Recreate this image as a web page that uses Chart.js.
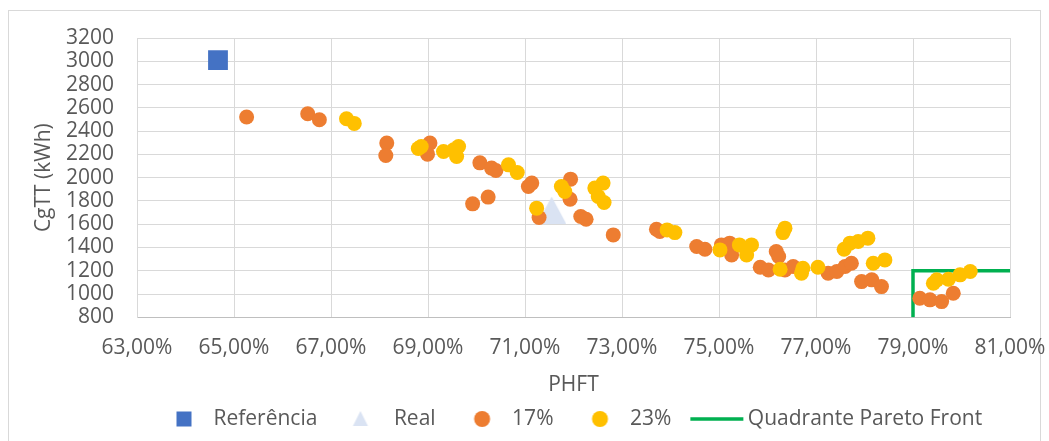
<!DOCTYPE html>
<html>
<head>
<meta charset="utf-8">
<title>CgTT x PHFT</title>
<script src="https://cdn.jsdelivr.net/npm/chart.js@4.4.1/dist/chart.umd.min.js"></script>
<style>
  html, body { margin: 0; padding: 0; background: #fff; }
  #frame {
    position: absolute; left: 8px; top: 10px;
    width: 1031px; height: 440px;
    border: 1px solid #d9d9d9;
  }
  #chart { position: absolute; left: 0; top: 0; }
</style>
</head>
<body>
<div id="frame"></div>
<canvas id="chart" width="1049" height="441"></canvas>
<script>
// PHFT (%) / CgTT (kWh) pairs
const referencia = [{ x: 64.67, y: 3010 }];
const real = [{ x: 71.55, y: 1721 }];

const phft17 = [65.26, 66.52, 66.76, 68.15, 68.13, 69.04, 68.99, 70.07, 70.31, 70.40,
  71.07, 71.14, 69.92, 70.24, 71.29, 71.94, 71.93, 72.15, 72.26, 72.82,
  73.71, 73.78, 74.54, 74.71, 75.05, 75.22, 75.26, 76.18, 76.23, 75.85,
  76.02, 76.36, 76.53, 77.25, 77.43, 77.60, 77.73, 77.94, 78.15, 78.35,
  79.14, 79.35, 79.59, 79.83];
const cgtt17 = [2521, 2549, 2497, 2297, 2190, 2297, 2202, 2127, 2082, 2061,
  1924, 1953, 1775, 1833, 1657, 1987, 1815, 1666, 1643, 1508,
  1557, 1537, 1408, 1385, 1422, 1437, 1336, 1365, 1322, 1230,
  1207, 1207, 1236, 1179, 1193, 1236, 1265, 1107, 1122, 1064,
  964, 950, 935, 1007];

const phft23 = [67.32, 67.48, 68.86, 68.80, 69.32, 69.53, 69.63, 69.59, 70.66, 70.84,
  71.24, 71.75, 71.82, 72.44, 72.61, 72.51, 72.63, 73.93, 74.09, 75.02,
  75.42, 75.67, 75.57, 76.36, 76.32, 76.26, 76.73, 76.70, 77.04, 77.58,
  77.70, 77.87, 78.07, 78.18, 78.42, 79.42, 79.49, 79.73, 79.97, 80.18];
const cgtt23 = [2506, 2466, 2268, 2250, 2225, 2240, 2268, 2182, 2110, 2044,
  1738, 1924, 1881, 1910, 1953, 1838, 1786, 1551, 1528, 1379,
  1422, 1422, 1336, 1566, 1528, 1213, 1222, 1179, 1230, 1385,
  1437, 1451, 1480, 1265, 1293, 1093, 1122, 1127, 1165, 1193];

// corner of the Pareto front quadrant
const quadrante = [{ x: 79, y: 800 }, { x: 79, y: 1200 }, { x: 81, y: 1200 }];

const toPoints = (xs, ys) => xs.map((x, i) => ({ x, y: ys[i] }));

const BLUE = "#4472c4";
const PALE = "#dae3f3";
const ORANGE = "#ed7d31";
const YELLOW = "#ffc000";
const GREEN = "#00b050";

function icon(w, h, draw) {
  const c = document.createElement("canvas");
  c.width = w;
  c.height = h;
  draw(c.getContext("2d"), w / 2, h / 2);
  return c;
}

// marker of the "Real" series
const realMarker = icon(29, 27, (ctx) => {
  ctx.fillStyle = PALE;
  ctx.beginPath();
  ctx.moveTo(14.5, 0);
  ctx.lineTo(29, 27);
  ctx.lineTo(0, 27);
  ctx.closePath();
  ctx.fill();
});

// legend symbols, shifted right inside the box so they sit next to the text
const legendIcons = [
  icon(44, 20, (ctx, cx, cy) => {
    ctx.fillStyle = BLUE;
    ctx.fillRect(cx + 10 - 7.5, cy - 7.5, 15, 15);
  }),
  icon(44, 20, (ctx, cx, cy) => {
    ctx.fillStyle = PALE;
    ctx.beginPath();
    ctx.moveTo(cx + 6, cy - 8);
    ctx.lineTo(cx + 13.5, cy + 7);
    ctx.lineTo(cx - 1.5, cy + 7);
    ctx.closePath();
    ctx.fill();
  }),
  icon(44, 20, (ctx, cx, cy) => {
    ctx.fillStyle = ORANGE;
    ctx.beginPath();
    ctx.arc(cx + 9.5, cy, 8, 0, Math.PI * 2);
    ctx.fill();
  }),
  icon(44, 20, (ctx, cx, cy) => {
    ctx.fillStyle = YELLOW;
    ctx.beginPath();
    ctx.arc(cx + 9.5, cy, 8, 0, Math.PI * 2);
    ctx.fill();
  }),
  icon(72, 8, (ctx) => {
    ctx.fillStyle = GREEN;
    ctx.fillRect(18, 2.25, 53, 3.5);
  }),
];

Chart.defaults.font.family = "'Open Sans', sans-serif";
Chart.defaults.font.size = 21;
Chart.defaults.color = "#595959";

const config = {
  type: "scatter",
  data: {
    datasets: [
      {
        label: "Referência",
        data: referencia,
        pointStyle: "rect",
        pointRadius: 14,
        backgroundColor: BLUE,
        borderWidth: 0,
        order: 0,
      },
      {
        label: "Real",
        data: real,
        pointStyle: realMarker,
        backgroundColor: PALE,
        borderWidth: 0,
        order: 3,
      },
      {
        label: "17%",
        data: toPoints(phft17, cgtt17),
        pointRadius: 7.5,
        backgroundColor: ORANGE,
        borderWidth: 0,
        order: 2,
      },
      {
        label: "23%",
        data: toPoints(phft23, cgtt23),
        pointRadius: 7.5,
        backgroundColor: YELLOW,
        borderWidth: 0,
        order: 1,
      },
      {
        label: "Quadrante Pareto Front",
        data: quadrante,
        showLine: true,
        borderColor: GREEN,
        backgroundColor: GREEN,
        borderWidth: 3.5,
        pointRadius: 0,
        order: 4,
      },
    ],
  },
  options: {
    responsive: false,
    animation: false,
    layout: {
      padding: { left: 0, right: 39, top: 38, bottom: 1.5 },
    },
    plugins: {
      tooltip: { enabled: false },
      legend: {
        position: "bottom",
        align: "start",
        fullSize: false,
        labels: {
          usePointStyle: true,
          pointStyleWidth: 58,
          padding: 8,
          color: "#595959",
          font: { size: 21 },
          generateLabels: (chart) => {
            const items = Chart.defaults.plugins.legend.labels.generateLabels(chart);
            items.forEach((item) => {
              item.pointStyle = legendIcons[item.datasetIndex];
            });
            return items;
          },
          sort: (a, b) => a.datasetIndex - b.datasetIndex,
        },
      },
    },
    scales: {
      x: {
        type: "linear",
        min: 63,
        max: 81,
        afterFit: (scale) => {
          scale.height = 83.2;
        },
        ticks: {
          stepSize: 2,
          padding: 3,
          callback: (v) => v.toFixed(2).replace(".", ",") + "%",
        },
        grid: {
          color: "#d9d9d9",
          lineWidth: 1,
          drawTicks: true,
          tickLength: 15.4,
          tickColor: "rgba(0,0,0,0)",
        },
        border: { color: "#bfbfbf", width: 1 },
        title: {
          display: true,
          text: "PHFT",
          padding: { top: 0, bottom: 2.9 },
        },
      },
      y: {
        type: "linear",
        min: 800,
        max: 3200,
        afterFit: (scale) => {
          scale.width = 137;
        },
        ticks: {
          stepSize: 200,
          autoSkip: false,
          padding: 23,
          callback: (v) => String(v),
        },
        grid: { color: "#d9d9d9", lineWidth: 1, drawTicks: false },
        border: { color: "#d9d9d9", width: 1 },
        title: {
          display: true,
          text: "CgTT (kWh)",
          padding: { top: 31.4, bottom: 0 },
        },
      },
    },
  },
};

new Chart(document.getElementById("chart"), config);
</script>
</body>
</html>
